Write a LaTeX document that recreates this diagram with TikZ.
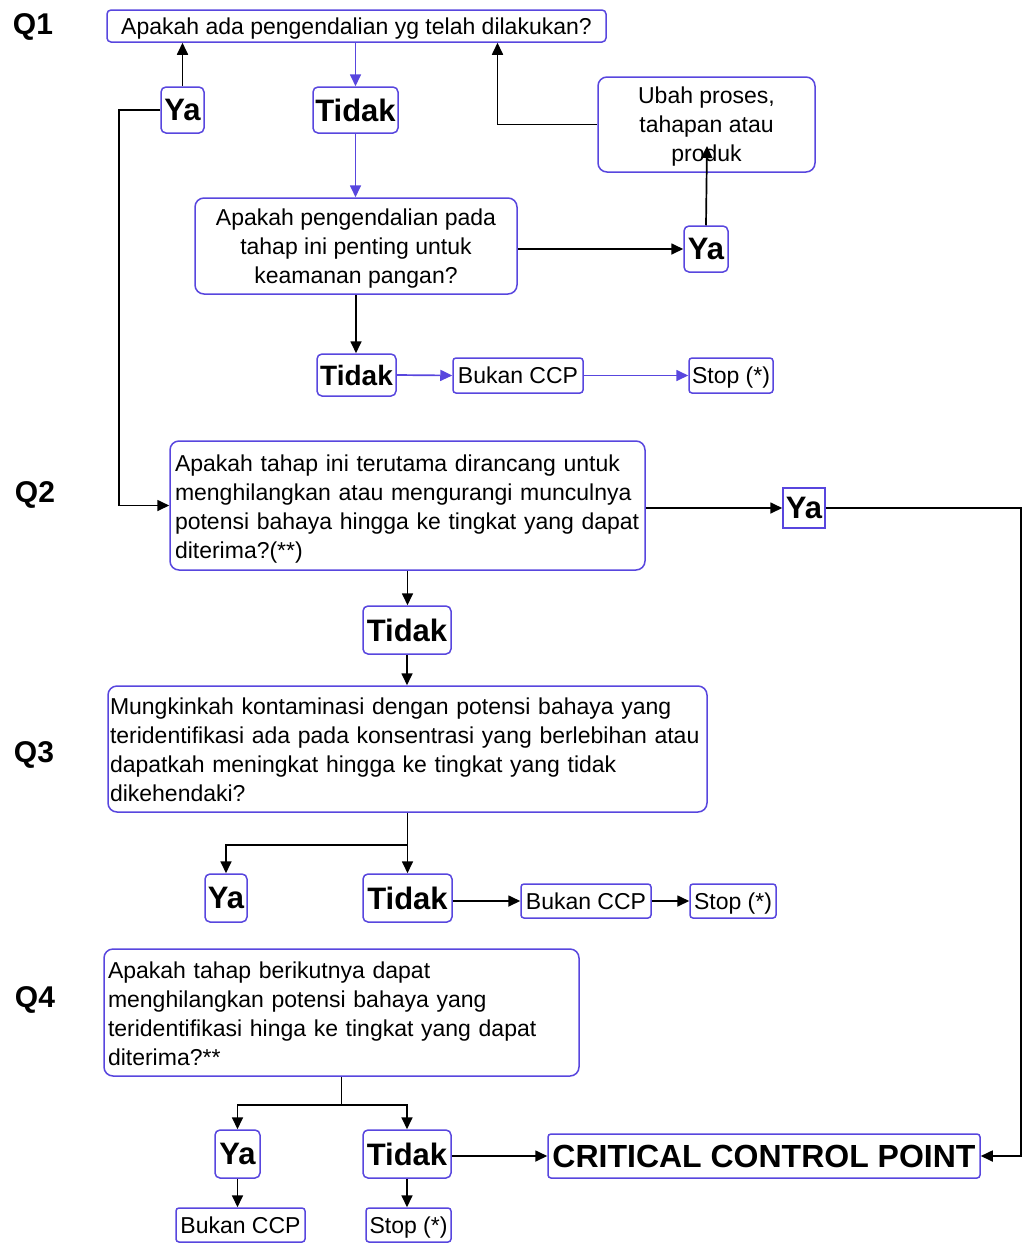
\documentclass[tikz,border=0pt]{standalone}
\usepackage{fontspec}
\setmainfont{Liberation Sans}
\usepackage{xcolor}
\usetikzlibrary{arrows.meta, positioning, calc}
\definecolor{boxblue}{RGB}{88,70,222}

\begin{document}
\begin{tikzpicture}[x=1pt, y=-1pt,
    qbox/.style={draw=boxblue, line width=1.5pt, rounded corners=9pt, inner sep=5pt, text depth=0pt, font=\fontsize{23}{29}\selectfont},
    longbox/.style={qbox, align=left, text depth=85pt},
    ansbox/.style={draw=boxblue, line width=1.5pt, rounded corners=5pt, inner sep=0pt, font=\fontsize{31}{36}\selectfont\bfseries},
    endbox/.style={draw=boxblue, line width=1.5pt, rounded corners=3pt, inner sep=0pt, text depth=0pt, font=\fontsize{23}{29}\selectfont},
    lbl/.style={font=\fontsize{30}{34}\selectfont\bfseries},
    arr/.style={-{Triangle[length=12pt,width=11pt]}, line width=1.7pt},
    barr/.style={arr, draw=boxblue}]
        \useasboundingbox (0,0) rectangle (1023,1243);

        % question labels
        \node[lbl] (L1) at (33,27) {Q1};
        \node[lbl] (L2) at (35,495) {Q2};
        \node[lbl] (L3) at (34,755) {Q3};
        \node[lbl] (L4) at (35,1000) {Q4};

        % Q1
        \node[qbox, rounded corners=4pt, minimum width=499pt, minimum height=32pt] (QA) at (356.5,26) {Apakah ada pengendalian yg telah dilakukan?};
        \node[ansbox, minimum width=43pt, minimum height=46pt] (Ya1) at (182.5,110) {Ya};
        \node[ansbox, minimum width=85pt, minimum height=46pt] (Tidak1) at (355.5,110) {Tidak};
        \node[qbox, align=center, minimum width=217pt, minimum height=95pt] (Ubah) at (706.5,124.5) {Ubah proses,\\tahapan atau\\produk};
        \node[qbox, align=center, minimum width=322pt, minimum height=96pt] (QB) at (356,246) {Apakah pengendalian pada\\tahap ini penting untuk\\keamanan pangan?};
        \node[ansbox, minimum width=44pt, minimum height=46pt] (Ya2) at (706,249) {Ya};
        \node[ansbox, minimum width=79pt, minimum height=42pt, font=\fontsize{28}{32}\selectfont\bfseries] (Tidak2) at (356.5,375) {Tidak};
        \node[endbox, minimum width=130pt, minimum height=35pt] (Bukan1) at (518,375.5) {Bukan CCP};
        \node[endbox, minimum width=84pt, minimum height=35pt] (Stop1) at (731,375.5) {Stop (*)};
        \coordinate (UbahIn) at (707,146);

        % Q2
        \node[longbox, text width=465pt, minimum height=129pt] (QD) at (407.5,505.5) {Apakah tahap ini terutama dirancang untuk\\menghilangkan atau mengurangi munculnya\\potensi bahaya hingga ke tingkat yang dapat\\diterima?(**)};
        \node[ansbox, rounded corners=0pt, minimum width=42pt, minimum height=40pt] (Ya3) at (804,508) {Ya};
        \node[ansbox, minimum width=88pt, minimum height=48pt] (Tidak3) at (407,630) {Tidak};

        % Q3
        \node[longbox, inner xsep=2pt, text width=595pt, minimum height=126pt] (QE) at (407.5,749) {Mungkinkah kontaminasi dengan potensi bahaya yang\\teridentifikasi ada pada konsentrasi yang berlebihan atau\\dapatkah meningkat hingga ke tingkat yang tidak\\dikehendaki?};
        \node[ansbox, minimum width=42pt, minimum height=48pt] (Ya4) at (226,898) {Ya};
        \node[ansbox, minimum width=89pt, minimum height=48pt] (Tidak4) at (407.5,898) {Tidak};
        \node[endbox, minimum width=130pt, minimum height=34pt] (Bukan2) at (586,901) {Bukan CCP};
        \node[endbox, minimum width=86pt, minimum height=34pt] (Stop2) at (733,901) {Stop (*)};
        \coordinate (SplitE) at (407.5,845);

        % Q4
        \node[longbox, inner xsep=4pt, text width=467pt, minimum height=127pt] (QF) at (341.5,1012.5) {Apakah tahap berikutnya dapat\\menghilangkan potensi bahaya yang\\teridentifikasi hinga ke tingkat yang dapat\\diterima?**};
        \node[ansbox, minimum width=45pt, minimum height=48pt] (Ya5) at (237.5,1154) {Ya};
        \node[ansbox, minimum width=88pt, minimum height=48pt] (Tidak5) at (407,1154) {Tidak};
        \node[ansbox, rounded corners=3pt, minimum width=432pt, minimum height=44pt, font=\fontsize{32}{36}\selectfont\bfseries] (CCP) at (764,1156) {CRITICAL CONTROL POINT};
        \node[endbox, minimum width=129pt, minimum height=34pt] (Bukan3) at (240.5,1225) {Bukan CCP};
        \node[endbox, minimum width=85pt, minimum height=34pt] (Stop3) at (408.5,1225) {Stop (*)};
        \coordinate (SplitF) at (341.5,1105);

        % connectors Q1
        \draw[arr] (Ya1.north) -- (Ya1.north |- QA.south);
        \draw[barr] (Tidak1.north |- QA.south) -- (Tidak1.north);
        \draw[barr] (Tidak1.south) -- (Tidak1.south |- QB.north);
        \draw[arr] (QB.east |- Ya2.west) -- (Ya2.west);
        \draw[arr] (Ya2.north) -- (UbahIn);
        \draw[arr] (Ubah.west) -| ([xshift=141]QA.south);
        \draw[arr] (QB.south) -- (QB.south |- Tidak2.north);
        \draw[barr] (Tidak2.east) -- (Bukan1.west);
        \draw[barr] (Bukan1.east) -- (Stop1.west);
        \draw[arr] (Ya1.west) -- ++(-41,0) |- (QD.west);

        % connectors Q2
        \draw[arr] (QD.east |- Ya3.west) -- (Ya3.west);
        \draw[arr] (Ya3.east) -- ++(195,0) |- (CCP.east);
        \draw[arr] (QD.south) -- (QD.south |- Tidak3.north);
        \draw[arr] (Tidak3.south) -- (Tidak3.south |- QE.north);

        % connectors Q3
        \draw[line width=1.7pt] (QE.south) -- (SplitE);
        \draw[arr] (SplitE) -- (Tidak4.north);
        \draw[arr] (SplitE) -| (Ya4.north);
        \draw[arr] (Tidak4.east |- Bukan2.west) -- (Bukan2.west);
        \draw[arr] (Bukan2.east) -- (Stop2.west);

        % connectors Q4
        \draw[line width=1.7pt] (QF.south) -- (SplitF);
        \draw[arr] (SplitF) -| (Ya5.north);
        \draw[arr] (SplitF) -| (Tidak5.north);
        \draw[arr] (Tidak5.east |- CCP.west) -- (CCP.west);
        \draw[arr] (Ya5.south) -- (Ya5.south |- Bukan3.north);
        \draw[arr] (Tidak5.south) -- (Tidak5.south |- Stop3.north);
\end{tikzpicture}
\end{document}
